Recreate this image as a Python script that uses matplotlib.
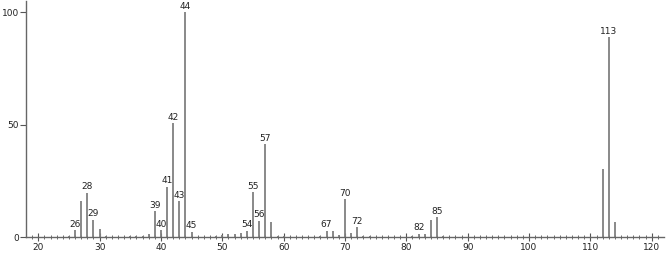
import numpy as np
import matplotlib.pyplot as plt

# m/z and relative intensity
mz = [25, 26, 27, 28, 29, 30, 31, 32, 35, 36, 37, 38, 39, 40, 41, 42, 43, 44, 45, 46,
      48, 49, 50, 51, 52, 53, 54, 55, 56, 57, 58, 59, 60, 62, 63, 64, 65, 66, 67, 68,
      69, 70, 71, 72, 73, 74, 77, 78, 79, 81, 82, 83, 84, 85, 86, 87,
      91, 92, 93, 94, 95, 96, 97, 98, 99, 103, 104, 105, 106, 107, 108, 109,
      112, 113, 114, 115]
intensity = [0.6, 3.2, 16.1, 19.8, 7.8, 3.8, 0.5, 0.2, 0.5, 0.5, 0.5, 1.5, 11.5, 3.2, 22.5, 50.7, 16.1, 100, 2.5, 0.3,
             0.3, 0.6, 1.1, 1.5, 1.4, 2.1, 2.9, 20.0, 7.4, 41.3, 6.7, 0.5, 0.5, 0.3, 0.3, 0.3, 0.3, 0.7, 2.9, 2.8,
             0.8, 17.0, 1.8, 4.6, 0.5, 0.5, 0.3, 0.3, 0.3, 0.5, 1.6, 1.4, 7.8, 8.9, 0.5, 0.3,
             0.3, 0.3, 0.3, 0.3, 0.3, 0.3, 0.3, 0.3, 0.3, 0.3, 0.3, 0.3, 0.3, 0.3, 0.3, 0.3,
             30.4, 88.9, 6.7, 0.3]
labelled = [26, 28, 29, 39, 40, 41, 42, 43, 44, 45, 54, 55, 56, 57, 67, 70, 72, 82, 85, 113]

fig = plt.figure(figsize=(6.66, 2.54), dpi=100)
ax = fig.add_axes([0.039, 0.066, 0.958, 0.93])

ax.vlines(mz, 0, intensity, colors="#808080", linewidth=1.3)

for m in labelled:
    h = intensity[mz.index(m)]
    ax.text(m, h + 0.6, str(m), ha="center", va="bottom", fontsize=6.5, color="#222222")

ax.set_xlim(18, 122)
ax.set_ylim(0, 105)
ax.set_xticks(np.arange(20, 121, 10))
ax.set_xticks(np.arange(19, 122, 1), minor=True)
ax.set_yticks([0, 50, 100])
ax.tick_params(axis="x", which="major", direction="inout", length=6, labelsize=6.5, colors="#555555", labelcolor="#222222", pad=1)
ax.tick_params(axis="x", which="minor", direction="inout", length=3, colors="#555555")
ax.tick_params(axis="y", which="major", direction="out", length=4, labelsize=6.5, colors="#555555", labelcolor="#222222", pad=1)
for s in ["top", "right"]:
    ax.spines[s].set_visible(False)
for s in ["left", "bottom"]:
    ax.spines[s].set_color("#666666")
    ax.spines[s].set_linewidth(1)

fig.savefig("out.png", dpi=100)
